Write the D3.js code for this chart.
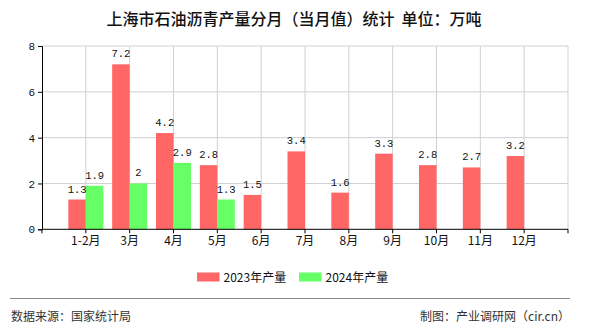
<!DOCTYPE html>
<html><head><meta charset="utf-8">
<script src="https://cdn.jsdelivr.net/npm/d3@7/dist/d3.min.js"></script>
<style>body{margin:0;background:#fff}svg{display:block}text{white-space:pre}</style>
</head><body>
<script>
const categories = ["1-2月","3月","4月","5月","6月","7月","8月","9月","10月","11月","12月"];
const values2023 = [1.3,7.2,4.2,2.8,1.5,3.4,1.6,3.3,2.8,2.7,3.2];
const values2024 = [1.9,2,2.9,1.3];
const yTicks = [0,2,4,6,8];
const seriesNames = ["2023年产量","2024年产量"];
const colors = ["#ff6666","#66ff66"];

const W=590,H=330;
const svg=d3.select("body").append("svg").attr("width",W).attr("height",H);
const cjk="'Noto Sans CJK SC','Noto Sans',sans-serif";
const mono="'Liberation Mono','DejaVu Sans Mono',monospace";

svg.append("text").attr("x",294).attr("y",25).attr("text-anchor","middle")
  .attr("font-family",cjk).attr("font-size",16).attr("font-weight",500).attr("fill","#111")
  .text("上海市石油沥青产量分月（当月值）统计  单位：万吨");

const L=42,R=568,T=46,B=229.3;
const x=d3.scalePoint().domain(categories).range([L,R]).padding(1);
const y=d3.scaleLinear().domain([0,8]).range([B,T]);
const bw=17.5;

// gridlines
const g=svg.append("g");
g.selectAll(".hg").data(yTicks.filter(d=>d>0)).enter().append("line")
  .attr("x1",L).attr("x2",R).attr("y1",d=>y(d)).attr("y2",d=>y(d))
  .attr("stroke","#d0d0d0").attr("stroke-width",1);
const vpos=[L,...categories.map(c=>x(c)),R];
g.selectAll(".vg").data(vpos.slice(1)).enter().append("line")
  .attr("x1",d=>d).attr("x2",d=>d).attr("y1",T).attr("y2",B)
  .attr("stroke","#d0d0d0").attr("stroke-width",1);

// bars
svg.append("g").selectAll("rect").data(values2023).enter().append("rect")
  .attr("x",(d,i)=>x(categories[i])-bw).attr("width",bw)
  .attr("y",d=>y(d)).attr("height",d=>B-y(d)).attr("fill",colors[0]);
svg.append("g").selectAll("rect").data(values2024).enter().append("rect")
  .attr("x",(d,i)=>x(categories[i])).attr("width",bw)
  .attr("y",d=>y(d)).attr("height",d=>B-y(d)).attr("fill",colors[1]);

// value labels
svg.append("g").selectAll("text").data(values2023).enter().append("text")
  .attr("x",(d,i)=>x(categories[i])-bw/2).attr("y",d=>y(d)-7)
  .attr("text-anchor","middle").attr("font-family",mono).attr("font-size",10.5).attr("fill","#111")
  .text(d=>d);
svg.append("g").selectAll("text").data(values2024).enter().append("text")
  .attr("x",(d,i)=>x(categories[i])+bw/2).attr("y",d=>y(d)-7)
  .attr("text-anchor","middle").attr("font-family",mono).attr("font-size",10.5).attr("fill","#111")
  .text(d=>d);

// axes
const xa=svg.append("g").attr("transform",`translate(0,${B})`);
xa.append("line").attr("x1",L).attr("x2",R).attr("stroke","#000");
xa.selectAll(".t").data(vpos).enter().append("line")
  .attr("x1",d=>d).attr("x2",d=>d).attr("y1",0).attr("y2",4).attr("stroke","#000");
xa.selectAll("text").data(categories).enter().append("text")
  .attr("x",d=>x(d)).attr("y",16).attr("text-anchor","middle")
  .attr("font-family",cjk).attr("font-size",12).attr("fill","#111").text(d=>d);

const ya=svg.append("g").attr("transform",`translate(${L},0)`)
  .call(d3.axisLeft(y).tickValues(yTicks).tickSize(4).tickPadding(3).tickFormat(d3.format("d")));
ya.select(".domain").attr("stroke","#000");
ya.selectAll(".tick line").attr("stroke","#000");
ya.selectAll("text").attr("font-family",mono).attr("font-size",11).attr("fill","#111");

// legend
const lg=svg.append("g");
const lx=[197,299];
seriesNames.forEach((s,i)=>{
  lg.append("rect").attr("x",lx[i]).attr("y",272.5).attr("width",22.5).attr("height",9).attr("fill",colors[i]);
  lg.append("text").attr("x",lx[i]+26.5).attr("y",282).attr("font-family",cjk).attr("font-size",12).attr("fill","#111").text(s);
});

// footer
svg.append("line").attr("x1",10).attr("x2",570).attr("y1",298.5).attr("y2",298.5).attr("stroke","#888").attr("stroke-width",1.2);
svg.append("text").attr("x",11).attr("y",321).attr("font-family",cjk).attr("font-size",12).attr("fill","#333").text("数据来源：国家统计局");
svg.append("text").attr("x",570).attr("y",321).attr("text-anchor","end").attr("font-family",cjk).attr("font-size",12).attr("fill","#333").text("制图：产业调研网（cir.cn）");
</script>
</body></html>
